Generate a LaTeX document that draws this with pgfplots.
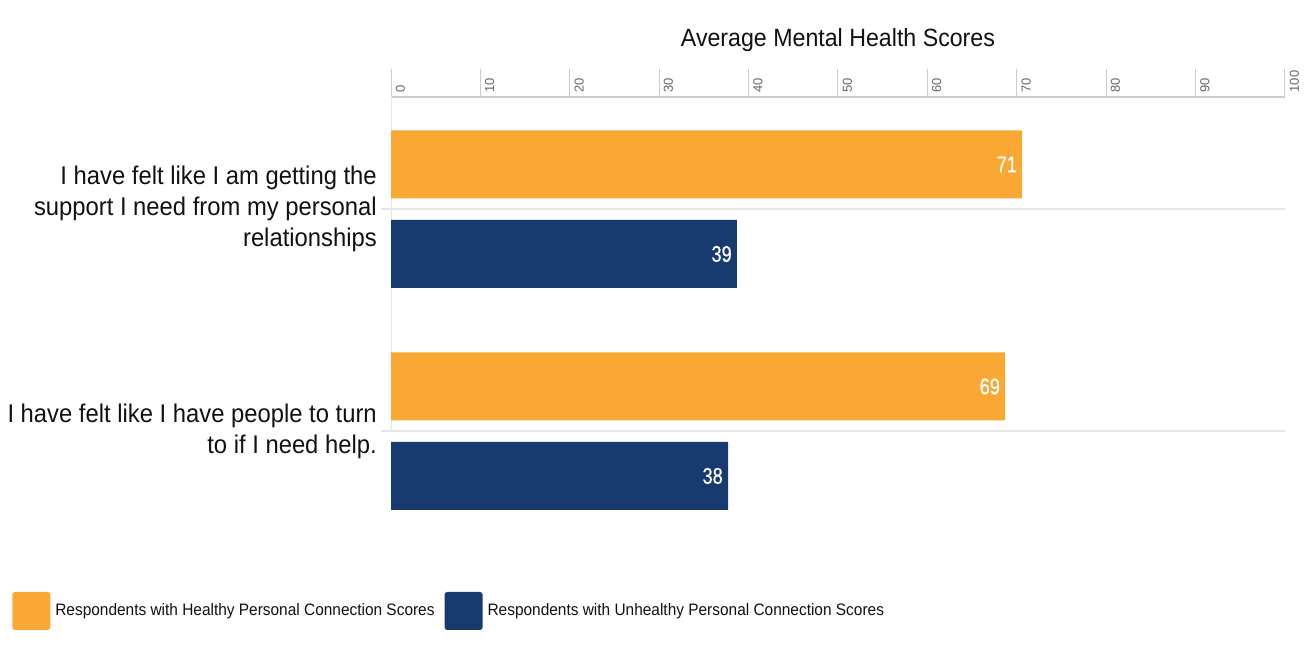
\documentclass[border=0pt]{standalone}
\usepackage{pgfplots}
\pgfplotsset{compat=1.18}
\usepackage{fontspec}
\setmainfont{Liberation Sans}[FakeStretch=0.93]
\newfontfamily\tickfont{Liberation Sans}
\newfontfamily\valfont{Liberation Sans}[FakeStretch=0.8, FakeBold=0.6]
\definecolor{borange}{HTML}{F9A833}
\definecolor{bnavy}{HTML}{173A6F}
\definecolor{gridc}{HTML}{E6E6E6}
\definecolor{tickc}{HTML}{CCCCCC}
\definecolor{ticklab}{HTML}{666666}
\definecolor{txt}{HTML}{111111}
\begin{document}
\begin{tikzpicture}
\begin{axis}[
  scale only axis,
  width=670.5pt, height=250.5pt,
  xmin=0, xmax=100, ymin=1, ymax=2.5045,
  xbar, bar width=51pt,
  clip=false,
  axis x line*=top,
  axis y line*=left,
  x axis line style={draw=tickc, line width=1.5pt, -},
  y axis line style={draw=gridc, line width=0.75pt, -},
  xtick={0,10,...,100},
  tick align=outside,
  major tick length=21pt,
  xtick style={draw=tickc, line width=0.75pt},
  ytick={1,2},
  ytick style={draw=none},
  yticklabels={{I have felt like I have people to turn\\to if I need help.},{I have felt like I am getting the\\support I need from my personal\\relationships}},
  yticklabel style={align=right, font=\fontsize{19.2}{23.25}\selectfont, text=txt, anchor=east, inner sep=0pt, xshift=10.5pt},
  xticklabel style={yshift=-21pt, rotate=90, anchor=north west, font=\tickfont\fontsize{9.75}{11}\selectfont, text=ticklab},
  /pgf/number format/assume math mode=true,
  title={Average Mental Health Scores},
  title style={at={(0.5,1)}, anchor=base, yshift=31.5pt, font=\fontsize{18.7}{22}\selectfont, text=txt},
  point meta=x,
  nodes near coords={\pgfmathprintnumber[fixed,precision=0]{\pgfplotspointmeta}},
  every node near coord/.append style={anchor=east, inner sep=0pt, xshift=-3.75pt, text=white, font=\valfont\fontsize{17}{19}\selectfont},
  legend style={at={(-0.4239,-0.539)}, anchor=west, draw=none, fill=none, inner sep=0pt, legend columns=2, font=\fontsize{12.45}{15}\selectfont, text=txt, nodes={inner sep=0pt, anchor=west}, /tikz/column sep=3.75pt, /tikz/every even column/.append style={column sep=7.5pt}},
  legend image code/.code={\fill[#1, rounded corners=2pt] (0pt,-14.25pt) rectangle (28.5pt,14.25pt);},
]
\draw[gridc, line width=1.5pt] (axis cs:-1.12,2) -- (axis cs:100,2);
\draw[gridc, line width=1.5pt] (axis cs:-1.12,1) -- (axis cs:100,1);
\addplot[fill=borange, draw=none, bar shift=33.4pt] coordinates {(70.6,2) (68.7,1)};
\addlegendentry{Respondents with Healthy Personal Connection Scores}
\addplot[fill=bnavy, draw=none, bar shift=-33.75pt] coordinates {(38.7,2) (37.7,1)};
\addlegendentry{Respondents with Unhealthy Personal Connection Scores}
\path (axis cs:-43.74,0.01351) rectangle (axis cs:103.36,2.9414);
\end{axis}
\end{tikzpicture}
\end{document}
